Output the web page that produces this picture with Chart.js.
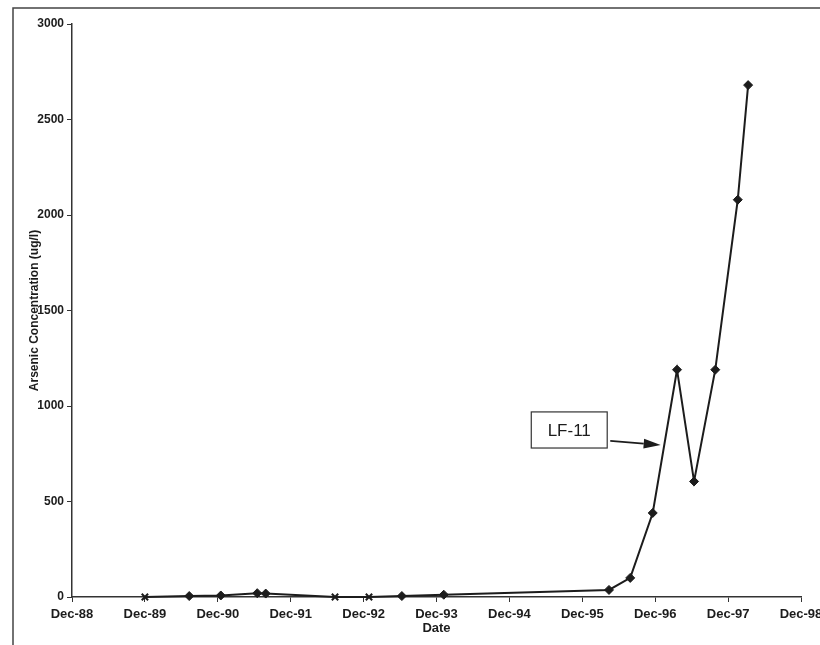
<!DOCTYPE html>
<html>
<head>
<meta charset="utf-8">
<script src="https://cdn.jsdelivr.net/npm/chart.js@4.4.1/dist/chart.umd.min.js"></script>
<style>
  html, body { margin: 0; padding: 0; background: #fff; }
  canvas { display: block; }
</style>
</head>
<body>
<canvas id="c" width="820" height="645"></canvas>
<script>
// ---- data ----
const sampleDates = ['1989-12-01','1990-07-10','1990-12-16','1991-06-16','1991-07-28','1992-07-10','1992-12-28','1993-06-10','1994-01-07','1996-04-13','1996-07-28','1996-11-19','1997-03-19','1997-06-13','1997-09-28','1998-01-19','1998-03-10'];
const arsenicValues = [0, 5, 8, 20, 18, 0, 0, 5, 12, 37, 100, 440, 1190, 605, 1190, 2080, 2680];
const nonDetect = [true, false, false, false, false, true, true, false, false, false, false, false, false, false, false, false, false];
const xTickLabels = ['Dec-88','Dec-89','Dec-90','Dec-91','Dec-92','Dec-93','Dec-94','Dec-95','Dec-96','Dec-97','Dec-98'];
const yTicks = [0, 500, 1000, 1500, 2000, 2500, 3000];
const seriesName = 'LF-11';

// months since Dec-88
function monthsSince(d) {
  const [y, m, day] = d.split('-').map(Number);
  return (y - 1988) * 12 + (m - 12) + (day - 1) / 30.4;
}
const points = sampleDates.map((d, i) => ({ x: monthsSince(d), y: arsenicValues[i] }));

const INK = '#1c1c1c';
const FONT = '"Liberation Sans", Arial, sans-serif';

const framePlugin = {
  id: 'frame',
  beforeDraw(chart) {
    const ctx = chart.ctx;
    ctx.save();
    ctx.fillStyle = '#fff';
    ctx.fillRect(0, 0, chart.width, chart.height);
    ctx.strokeStyle = '#444';
    ctx.lineWidth = 1.5;
    ctx.beginPath();
    ctx.moveTo(13, chart.height);
    ctx.lineTo(13, 8);
    ctx.lineTo(chart.width, 8);
    ctx.stroke();
    ctx.restore();
  }
};

// label box + arrow, anchored in data units
const calloutBox = { x0: 75.6, x1: 88.1, y0: 780, y1: 969 };
const calloutArrow = { fromX: 88.6, fromY: 817, toX: 96.9, toY: 796 };
const calloutPlugin = {
  id: 'callout',
  afterDatasetsDraw(chart) {
    const xs = chart.scales.x, ys = chart.scales.y, ctx = chart.ctx;
    const l = xs.getPixelForValue(calloutBox.x0), r = xs.getPixelForValue(calloutBox.x1);
    const t = ys.getPixelForValue(calloutBox.y1), b = ys.getPixelForValue(calloutBox.y0);
    ctx.save();
    ctx.fillStyle = '#fff';
    ctx.fillRect(l, t, r - l, b - t);
    ctx.strokeStyle = '#333';
    ctx.lineWidth = 1.2;
    ctx.strokeRect(l, t, r - l, b - t);
    ctx.fillStyle = INK;
    ctx.font = '17px ' + FONT;
    ctx.textAlign = 'center';
    ctx.textBaseline = 'middle';
    ctx.fillText(seriesName, (l + r) / 2, (t + b) / 2 + 1);
    // arrow
    const fx = xs.getPixelForValue(calloutArrow.fromX), fy = ys.getPixelForValue(calloutArrow.fromY);
    const tx = xs.getPixelForValue(calloutArrow.toX), ty = ys.getPixelForValue(calloutArrow.toY);
    const ang = Math.atan2(ty - fy, tx - fx);
    const headLen = 17, headW = 5;
    const bx = tx - headLen * Math.cos(ang), by = ty - headLen * Math.sin(ang);
    ctx.strokeStyle = INK;
    ctx.lineWidth = 1.8;
    ctx.beginPath();
    ctx.moveTo(fx, fy);
    ctx.lineTo(bx, by);
    ctx.stroke();
    ctx.beginPath();
    ctx.moveTo(tx, ty);
    ctx.lineTo(bx + headW * Math.sin(ang), by - headW * Math.cos(ang));
    ctx.lineTo(bx - headW * Math.sin(ang), by + headW * Math.cos(ang));
    ctx.closePath();
    ctx.fill();
    ctx.restore();
  }
};

new Chart(document.getElementById('c'), {
  type: 'line',
  data: {
    datasets: [{
      label: seriesName,
      data: points,
      clip: false,
      borderColor: INK,
      borderWidth: 2,
      backgroundColor: INK,
      pointBackgroundColor: INK,
      pointBorderColor: INK,
      pointStyle: nonDetect.map(nd => nd ? 'crossRot' : 'rectRot'),
      pointRadius: 4.5,
      pointBorderWidth: nonDetect.map(nd => nd ? 2 : 1),
      tension: 0,
      fill: false
    }]
  },
  plugins: [framePlugin, calloutPlugin],
  options: {
    responsive: false,
    animation: false,
    devicePixelRatio: 1,
    layout: { padding: { left: 0, top: 24, right: 19, bottom: 0 } },
    plugins: { legend: { display: false }, tooltip: { enabled: false } },
    scales: {
      x: {
        type: 'linear',
        min: 0,
        max: 120,
        afterFit(scale) { scale.height = 48; scale.paddingLeft = 0; scale.paddingRight = 0; },
        afterBuildTicks(scale) { scale.ticks = xTickLabels.map((_, i) => ({ value: i * 12 })); },
        ticks: {
          autoSkip: false,
          maxRotation: 0,
          padding: 5,
          color: INK,
          font: { family: FONT, size: 13, weight: 'bold' },
          callback: (v) => xTickLabels[Math.round(v / 12)]
        },
        grid: { drawOnChartArea: false, drawTicks: true, tickLength: 5, color: '#333', tickWidth: 1 },
        border: { display: true, color: '#333', width: 1.5 },
        title: {
          display: true,
          text: 'Date',
          color: INK,
          padding: { top: 0, bottom: 9 },
          font: { family: FONT, size: 13, weight: 'bold' }
        }
      },
      y: {
        type: 'linear',
        min: 0,
        max: 3000,
        afterFit(scale) { scale.width = 72; },
        afterBuildTicks(scale) { scale.ticks = yTicks.map(v => ({ value: v })); },
        ticks: {
          padding: 3,
          color: INK,
          font: { family: FONT, size: 12, weight: 'bold' },
          callback: (v) => String(v)
        },
        grid: { drawOnChartArea: false, drawTicks: true, tickLength: 5, color: '#333', tickWidth: 1 },
        border: { display: true, color: '#333', width: 1.5 },
        title: {
          display: true,
          text: 'Arsenic Concentration (ug/l)',
          color: INK,
          padding: { top: 27, bottom: 0 },
          font: { family: FONT, size: 12, weight: 'bold' }
        }
      }
    }
  }
});
</script>
</body>
</html>
